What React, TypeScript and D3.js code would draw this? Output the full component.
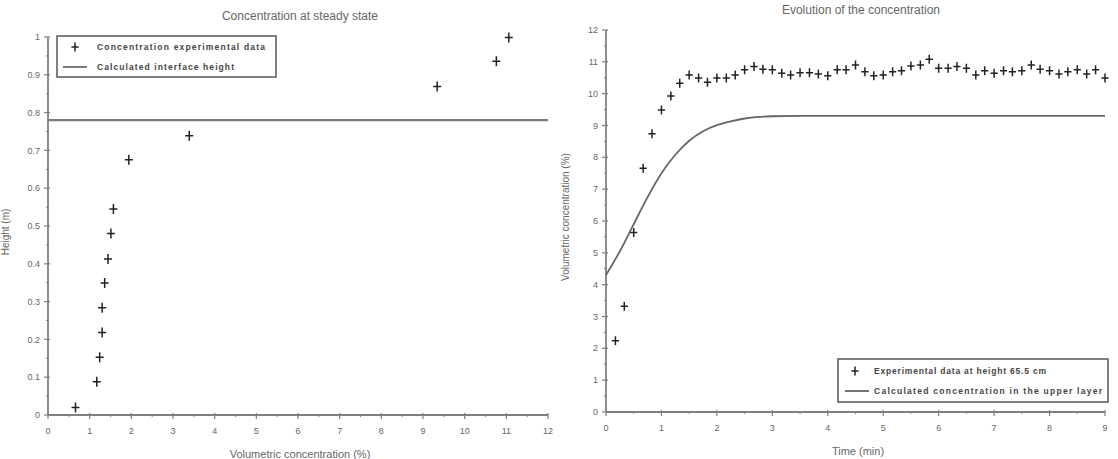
import React, { useEffect, useRef } from 'react';
import * as d3 from 'd3';

// Left plot: concentration profile at steady state
const steadyConc = [0.66, 1.17, 1.24, 1.3, 1.3, 1.36, 1.44, 1.51, 1.57, 1.94, 3.39, 9.34, 10.76, 11.06];
const steadyHeight = [0.02, 0.088, 0.153, 0.218, 0.284, 0.349, 0.413, 0.48, 0.545, 0.675, 0.739, 0.869, 0.936, 0.999];
const interfaceHeight = 0.78;

// Right plot: experimental data at fixed height
const expTime = [
  0.17, 0.33, 0.5, 0.67, 0.83, 1, 1.17, 1.33, 1.5, 1.67, 1.83, 2, 2.17, 2.33, 2.5, 2.67, 2.83, 3,
  3.17, 3.33, 3.5, 3.67, 3.83, 4, 4.17, 4.33, 4.5, 4.67, 4.83, 5, 5.17, 5.33, 5.5, 5.67, 5.83, 6,
  6.17, 6.33, 6.5, 6.67, 6.83, 7, 7.17, 7.33, 7.5, 7.67, 7.83, 8, 8.17, 8.33, 8.5, 8.67, 8.83, 9,
];
const expConc = [
  2.24, 3.32, 5.64, 7.66, 8.74, 9.49, 9.93, 10.33, 10.59, 10.49, 10.36, 10.49, 10.49, 10.59, 10.75, 10.85, 10.77, 10.75,
  10.64, 10.59, 10.66, 10.66, 10.62, 10.56, 10.75, 10.75, 10.9, 10.69, 10.56, 10.59, 10.69, 10.72, 10.87, 10.9, 11.08, 10.8,
  10.8, 10.85, 10.8, 10.59, 10.72, 10.64, 10.72, 10.69, 10.72, 10.9, 10.77, 10.72, 10.62, 10.69, 10.75, 10.62, 10.75, 10.49,
];

// Calculated concentration in the upper layer
const calcTime = [0, 0.25, 0.5, 0.75, 1, 1.25, 1.5, 1.75, 2, 2.25, 2.5, 2.75, 3, 3.5, 9];
const calcConc = [4.3, 5.05, 5.9, 6.75, 7.5, 8.08, 8.52, 8.82, 9.01, 9.13, 9.22, 9.27, 9.29, 9.3, 9.3];

const leftXTicks = [0, 1, 2, 3, 4, 5, 6, 7, 8, 9, 10, 11, 12];
const leftYTicks = [0, 0.1, 0.2, 0.3, 0.4, 0.5, 0.6, 0.7, 0.8, 0.9, 1];
const rightXTicks = [0, 1, 2, 3, 4, 5, 6, 7, 8, 9];
const rightYTicks = [0, 1, 2, 3, 4, 5, 6, 7, 8, 9, 10, 11, 12];

const FONT = '"Liberation Sans", Arial, sans-serif';
const AXIS = '#808080';
const LABEL = '#666';
const MARK = '#222';

const App = () => {
  const ref = useRef(null);

  useEffect(() => {
    const svg = d3.select(ref.current);
    svg.selectAll('*').remove();

    const drawAxes = (g, x, y, xTicks, yTicks, xMinor, yMinor, yFmt) => {
      const [x0, x1] = x.range();
      const [y0, y1] = y.range();
      g.append('line').attr('x1', x0).attr('x2', x1).attr('y1', y0).attr('y2', y0)
        .attr('stroke', AXIS).attr('stroke-width', 1.8);
      g.append('line').attr('x1', x0).attr('x2', x0).attr('y1', y0).attr('y2', y1)
        .attr('stroke', AXIS).attr('stroke-width', 1.8);

      xTicks.forEach((t, i) => {
        g.append('line').attr('x1', x(t)).attr('x2', x(t)).attr('y1', y0 - 2).attr('y2', y0 + 4)
          .attr('stroke', AXIS).attr('stroke-width', 1.2);
        g.append('text').attr('x', x(t)).attr('y', y0 + 19).attr('text-anchor', 'middle')
          .style('font-family', FONT).style('font-size', '9px').attr('fill', LABEL).text(String(t));
        if (i < xTicks.length - 1) {
          const m = t + xMinor;
          g.append('line').attr('x1', x(m)).attr('x2', x(m)).attr('y1', y0 - 1).attr('y2', y0 + 2)
            .attr('stroke', AXIS).attr('stroke-width', 1);
        }
      });
      yTicks.forEach((t, i) => {
        g.append('line').attr('x1', x0 - 4).attr('x2', x0 + 2).attr('y1', y(t)).attr('y2', y(t))
          .attr('stroke', AXIS).attr('stroke-width', 1.2);
        g.append('text').attr('x', x0 - 8).attr('y', y(t)).attr('dy', '0.35em').attr('text-anchor', 'end')
          .style('font-family', FONT).style('font-size', '9px').attr('fill', LABEL).text(yFmt(t));
        if (i < yTicks.length - 1) {
          const m = t + yMinor;
          g.append('line').attr('x1', x0 - 2).attr('x2', x0 + 1).attr('y1', y(m)).attr('y2', y(m))
            .attr('stroke', AXIS).attr('stroke-width', 1);
        }
      });
    };

    const plus = (g, cx, cy, s = 5) => {
      g.append('path').attr('d', `M${cx - s * 0.8},${cy}H${cx + s * 0.8}M${cx},${cy - s}V${cy + s}`)
        .attr('stroke', MARK).attr('stroke-width', 1.5).attr('fill', 'none');
    };

    const label = (g, x, y, txt, size, rotate = false) => {
      const t = g.append('text').attr('text-anchor', 'middle')
        .style('font-family', FONT).style('font-size', size).attr('fill', LABEL).text(txt);
      if (rotate) t.attr('transform', `translate(${x},${y}) rotate(-90)`);
      else t.attr('x', x).attr('y', y);
    };

    // ---------- Left plot ----------
    const xL = d3.scaleLinear().domain([0, 12]).range([48, 548]);
    const yL = d3.scaleLinear().domain([0, 1]).range([415, 37]);
    const gL = svg.append('g');
    drawAxes(gL, xL, yL, leftXTicks, leftYTicks, 0.5, 0.05, (t) => (t === 0 || t === 1 ? String(t) : d3.format('.1f')(t)));

    gL.append('line').attr('x1', xL(0)).attr('x2', xL(12))
      .attr('y1', yL(interfaceHeight)).attr('y2', yL(interfaceHeight))
      .attr('stroke', '#7a7a7a').attr('stroke-width', 2.2);

    steadyConc.forEach((c, i) => plus(gL, xL(c), yL(steadyHeight[i])));

    label(gL, 300, 20, 'Concentration at steady state', '12px');
    label(gL, 300, 458, 'Volumetric concentration (%)', '11px');
    label(gL, 9, 232, 'Height (m)', '10px', true);

    const legL = gL.append('g');
    legL.append('rect').attr('x', 57).attr('y', 36).attr('width', 219).attr('height', 41)
      .attr('fill', 'white').attr('stroke', '#555').attr('stroke-width', 1.5);
    plus(legL, 75, 47, 4.5);
    legL.append('line').attr('x1', 63).attr('x2', 87).attr('y1', 67).attr('y2', 67)
      .attr('stroke', '#7a7a7a').attr('stroke-width', 2);
    legL.append('text').attr('x', 97).attr('y', 50).attr('textLength', 168)
      .style('font-family', FONT).style('font-size', '8.5px').style('font-weight', 'bold').attr('fill', '#444')
      .text('Concentration experimental data');
    legL.append('text').attr('x', 97).attr('y', 70).attr('textLength', 137)
      .style('font-family', FONT).style('font-size', '8.5px').style('font-weight', 'bold').attr('fill', '#444')
      .text('Calculated interface height');

    // ---------- Right plot ----------
    const xR = d3.scaleLinear().domain([0, 9]).range([606, 1105]);
    const yR = d3.scaleLinear().domain([0, 12]).range([412, 30]);
    const gR = svg.append('g');
    drawAxes(gR, xR, yR, rightXTicks, rightYTicks, 0.5, 0.5, (t) => String(t));

    const line = d3.line().x((d) => xR(d[0])).y((d) => yR(d[1])).curve(d3.curveMonotoneX);
    gR.append('path').datum(calcTime.map((t, i) => [t, calcConc[i]]))
      .attr('d', line).attr('fill', 'none').attr('stroke', '#666').attr('stroke-width', 1.8);

    expTime.forEach((t, i) => plus(gR, xR(t), yR(expConc[i]), 4.5));

    label(gR, 861, 14, 'Evolution of the concentration', '12px');
    label(gR, 858, 455, 'Time (min)', '11px');
    label(gR, 569, 217, 'Volumetric concentration (%)', '10px', true);

    const legR = gR.append('g');
    legR.append('rect').attr('x', 838).attr('y', 359).attr('width', 270).attr('height', 43)
      .attr('fill', 'white').attr('stroke', '#555').attr('stroke-width', 1.5);
    plus(legR, 855, 371, 4.5);
    legR.append('line').attr('x1', 845).attr('x2', 869).attr('y1', 391).attr('y2', 391)
      .attr('stroke', '#666').attr('stroke-width', 1.8);
    legR.append('text').attr('x', 874).attr('y', 374).attr('textLength', 172)
      .style('font-family', FONT).style('font-size', '8.5px').style('font-weight', 'bold').attr('fill', '#444')
      .text('Experimental data at height 65.5 cm');
    legR.append('text').attr('x', 874).attr('y', 394).attr('textLength', 228)
      .style('font-family', FONT).style('font-size', '8.5px').style('font-weight', 'bold').attr('fill', '#444')
      .text('Calculated concentration in the upper layer');
  }, []);

  return (
    <svg ref={ref} width={1118} height={459} style={{ position: 'absolute', left: 0, top: 0, background: 'white' }} />
  );
};

export default App;
